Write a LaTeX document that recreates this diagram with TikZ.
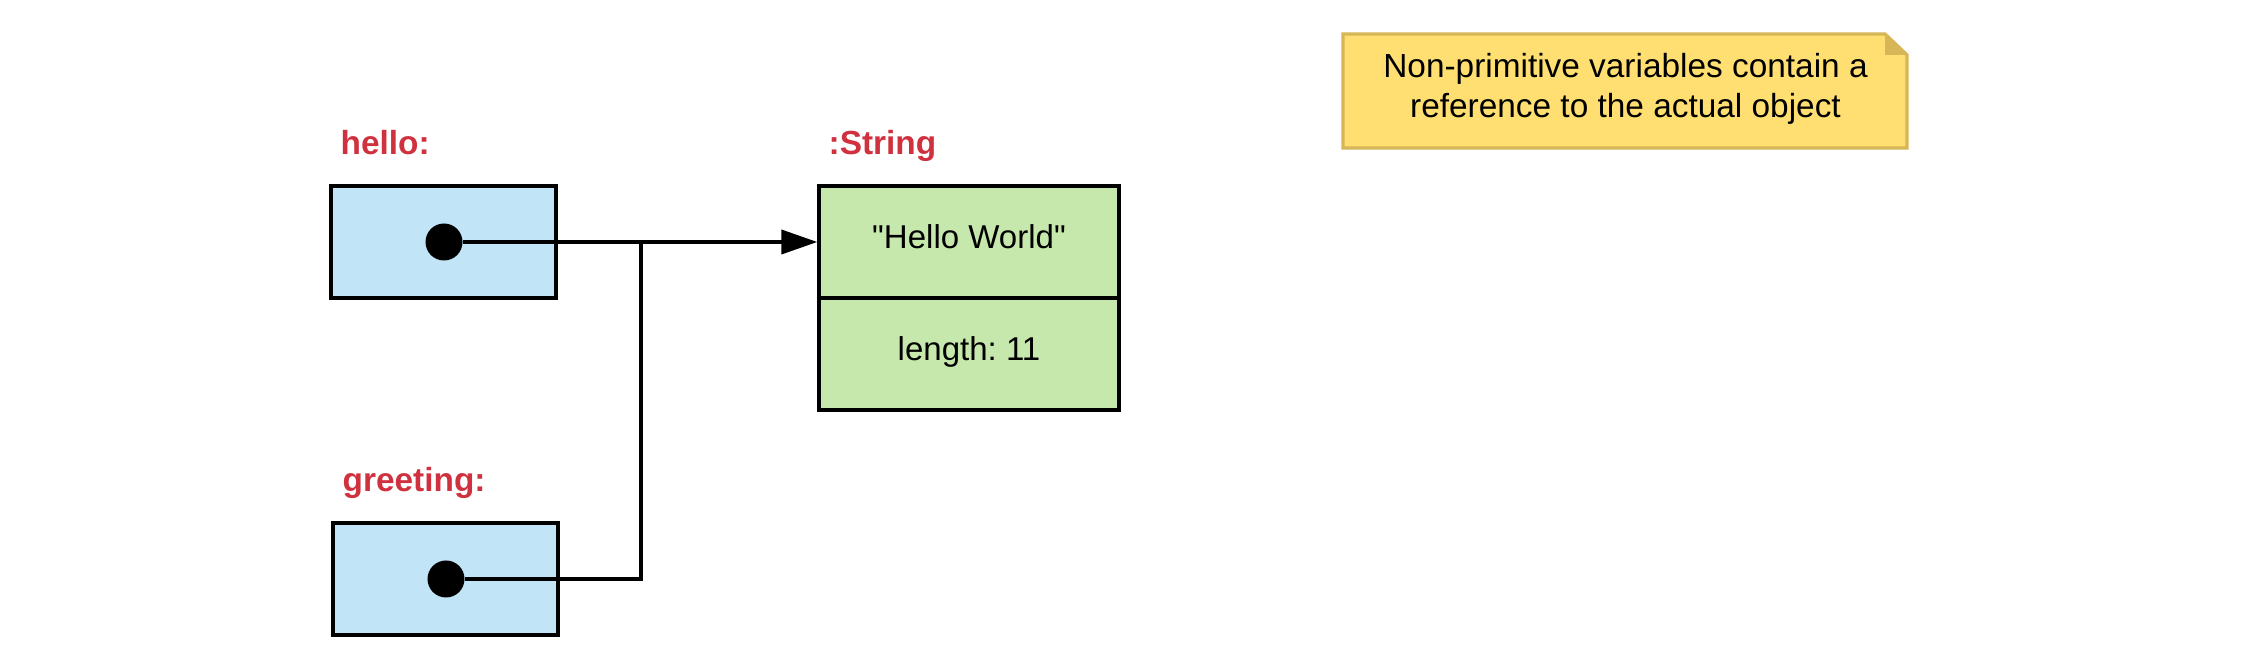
\documentclass[tikz,border=0pt]{standalone}
\usepackage{fontspec}
\setmainfont{Liberation Sans}
\usetikzlibrary{arrows.meta,positioning}

\definecolor{varblue}{HTML}{C1E4F7}
\definecolor{objgreen}{HTML}{C7E8AC}
\definecolor{labelred}{HTML}{D0313F}
\definecolor{noteyellow}{HTML}{FFDF71}
\definecolor{noteedge}{HTML}{D6B656}

\tikzset{
  varbox/.style={draw, fill=varblue, line width=0.95pt, minimum width=2.25cm, minimum height=1.12cm, inner sep=0pt},
  objfield/.style={draw, fill=objgreen, line width=0.95pt, minimum width=3cm, minimum height=1.12cm, inner sep=0pt,
    font=\fontsize{9.4}{11}\selectfont, text height=0.24cm, text depth=0.1cm},
  refdot/.style={circle, fill=black, minimum size=0.37cm, inner sep=0pt},
  varlabel/.style={anchor=base west, text=labelred, font=\fontsize{9.5}{11}\selectfont\bfseries, inner sep=0pt},
  refline/.style={line width=1.1pt},
}

\begin{document}
\begin{tikzpicture}
    \useasboundingbox (0,0) rectangle (22.43,-6.62);

    % Variables
    \node[varlabel] (hellolbl) at (3.40,-1.55) {hello:};
    \node[varbox] (hello) at (4.435,-2.42) {};
    \node[refdot] (hellodot) at (4.44,-2.42) {};

    \node[varlabel] (greetlbl) at (3.42,-4.92) {greeting:};
    \node[varbox] (greeting) at (4.455,-5.79) {};
    \node[refdot] (greetdot) at (4.46,-5.79) {};

    % String object
    \node[varlabel] (strlbl) at (8.28,-1.55) {:String};
    \node[objfield] (strval) at (9.69,-2.42) {\textquotedbl Hello World\textquotedbl};
    \node[objfield] (strlen) at (9.69,-3.54) {length:\ 11};

    % References
    \coordinate (join) at (6.41,-2.42);
    \draw[refline, -{Triangle[length=3.6mm,width=2.4mm]}] (hellodot) -- (strval.west);
    \draw[refline] (greetdot) -| (join);

    % Note
    \draw[fill=noteyellow, draw=noteedge, line width=0.95pt]
        (13.43,-0.34) -- (18.85,-0.34) -- (19.07,-0.55) -- (19.07,-1.48) -- (13.43,-1.48) -- cycle;
    \fill[noteedge] (18.85,-0.34) -- (18.85,-0.55) -- (19.07,-0.55) -- cycle;
    \node[align=center, font=\fontsize{9.5}{11.4}\selectfont] (note) at (16.255,-0.893)
        {Non-primitive variables contain a\\reference to the actual object};
\end{tikzpicture}
\end{document}
